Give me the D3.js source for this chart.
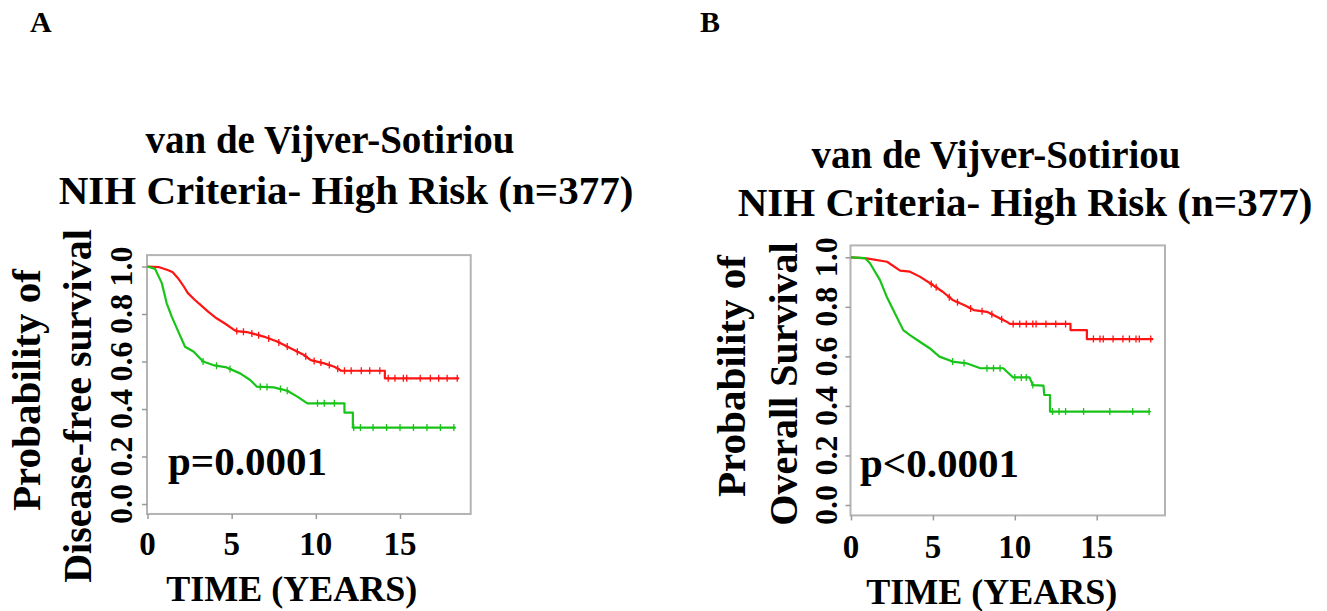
<!DOCTYPE html>
<html>
<head>
<meta charset="utf-8">
<script src="https://cdn.jsdelivr.net/npm/d3@7"></script>
<style>
  html, body { margin: 0; padding: 0; background: #fff; }
  svg { display: block; }
  text { font-family: "Liberation Serif", "Times New Roman", serif; font-weight: bold; fill: #000; }
</style>
</head>
<body>
<svg id="chart" width="1327" height="611"></svg>
<script>
// ---------------- DATA ----------------
const panelLetters = ["A", "B"];
const titleLine1 = "van de Vijver-Sotiriou";
const titleLine2 = "NIH Criteria- High Risk (n=377)";
const yLabelLine1 = ["Probability of", "Probability of"];
const yLabelLine2 = ["Disease-free survival", "Overall Survival"];
const xLabel = "TIME (YEARS)";
const pValues = ["p=0.0001", "p<0.0001"];
const xTicks = [0, 5, 10, 15];
const yTicks = [0, 0.2, 0.4, 0.6, 0.8, 1.0];
const yTickLabels = ["0.0", "0.2", "0.4", "0.6", "0.8", "1.0"];

// Panel A – disease-free survival (red = low risk group, green = high risk group)
const aRedTime = [0, 0.7, 1.2, 1.5, 1.8, 2.1, 2.4, 2.8, 3.2, 3.6, 4.1, 4.6, 5.1, 5.3, 5.9, 6.9, 7.7, 8.5, 9.3, 9.7, 10.5, 11.1, 11.4, 11.5, 14.1, 14.1, 18.5];
const aRedSurv = [1.0, 0.997, 0.985, 0.976, 0.952, 0.922, 0.888, 0.86, 0.835, 0.81, 0.782, 0.76, 0.735, 0.728, 0.724, 0.705, 0.684, 0.656, 0.627, 0.606, 0.592, 0.578, 0.566, 0.561, 0.561, 0.529, 0.529];
const aRedCensor = [5.3, 5.7, 6.2, 6.6, 7.2, 7.8, 8.3, 8.9, 9.4, 9.9, 10.3, 10.8, 11.3, 11.7, 12.1, 12.7, 13.2, 13.8, 14.3, 14.7, 15.2, 15.4, 16.2, 16.8, 17.3, 17.8, 18.4];
const aGreenTime = [0, 0.45, 0.85, 1.14, 1.44, 1.83, 2.23, 2.73, 3.3, 3.9, 4.7, 5.5, 6.1, 6.5, 7.5, 8.3, 8.9, 9.5, 11.7, 11.7, 12.2, 12.2, 18.3];
const aGreenSurv = [1.0, 0.99, 0.93, 0.845, 0.789, 0.726, 0.662, 0.642, 0.6, 0.585, 0.575, 0.55, 0.522, 0.494, 0.491, 0.477, 0.452, 0.424, 0.424, 0.385, 0.385, 0.322, 0.322];
const aGreenCensor = [3.3, 4.1, 4.9, 6.7, 7.1, 7.9, 8.3, 10.1, 10.5, 11.1, 12.25, 12.65, 13.4, 14.2, 15.0, 15.8, 16.6, 17.4, 18.2];

// Panel B – overall survival
const bRedTime = [0, 0.95, 2.2, 3.0, 3.6, 4.2, 5.0, 5.6, 6.2, 6.9, 7.5, 8.3, 8.9, 9.5, 9.7, 13.4, 13.4, 14.4, 14.4, 18.45];
const bRedSurv = [1.0, 0.996, 0.982, 0.946, 0.942, 0.922, 0.888, 0.861, 0.828, 0.807, 0.787, 0.78, 0.76, 0.74, 0.731, 0.731, 0.706, 0.706, 0.67, 0.67];
const bRedCensor = [4.9, 5.2, 6.0, 6.5, 7.3, 8.0, 8.6, 9.2, 9.9, 10.3, 10.7, 11.1, 11.3, 11.9, 12.5, 13.1, 14.8, 15.2, 15.4, 16.0, 16.6, 17.0, 17.4, 17.6, 18.3];
const bGreenTime = [0, 0.85, 1.16, 1.77, 2.18, 2.58, 3.19, 3.6, 4.2, 4.8, 5.4, 6.2, 7.05, 7.9, 9.3, 9.9, 10.9, 11.1, 11.75, 11.8, 12.15, 12.15, 18.25];
const bGreenSurv = [1.0, 0.997, 0.976, 0.908, 0.841, 0.787, 0.706, 0.686, 0.659, 0.633, 0.599, 0.579, 0.572, 0.552, 0.552, 0.515, 0.515, 0.484, 0.482, 0.444, 0.444, 0.377, 0.377];
const bGreenCensor = [6.2, 6.9, 8.3, 8.7, 9.1, 10.0, 10.4, 10.7, 11.1, 12.3, 12.7, 13.1, 14.2, 15.8, 17.2, 18.2];

const seriesColors = { red: "#ff1414", green: "#18c418" };

// ---------------- LAYOUT ----------------
const panels = [
  {
    letter: panelLetters[0], letterX: 30,
    xRange: [147.5, 400], xMaxDomain: 19.2, yRange: [504, 266.5],
    t1X: 330, t2X: 346, t1Y: 153, t2Y: 204,
    yl1X: 40, yl2X: 91, ylCy1: 390, ylCy2: 406, yTickX: 132,
    xTickY: 555, xLabY: 601, pX: 168, pY: 475,
    yLabel1: yLabelLine1[0], yLabel2: yLabelLine2[0], p: pValues[0],
    curves: [
      { t: aRedTime, s: aRedSurv, c: aRedCensor, color: seriesColors.red },
      { t: aGreenTime, s: aGreenSurv, c: aGreenCensor, color: seriesColors.green }
    ]
  },
  {
    letter: panelLetters[1], letterX: 700,
    xRange: [851, 1096.7], xMaxDomain: 19.17, yRange: [505, 257.3],
    t1X: 996, t2X: 1025, t1Y: 168, t2Y: 216,
    yl1X: 745, yl2X: 797, ylCy1: 376, ylCy2: 384, yTickX: 837,
    xTickY: 558, xLabY: 604, pX: 860, pY: 477,
    yLabel1: yLabelLine1[1], yLabel2: yLabelLine2[1], p: pValues[1],
    curves: [
      { t: bRedTime, s: bRedSurv, c: bRedCensor, color: seriesColors.red },
      { t: bGreenTime, s: bGreenSurv, c: bGreenCensor, color: seriesColors.green }
    ]
  }
];

const svg = d3.select("#chart");

function survAt(times, survs, t) {
  let i = d3.bisectRight(times, t) - 1;
  if (i < 0) i = 0;
  if (i >= times.length - 1) return survs[times.length - 1];
  const t0 = times[i], t1 = times[i + 1];
  if (t1 === t0) return survs[i + 1];
  return survs[i] + (survs[i + 1] - survs[i]) * (t - t0) / (t1 - t0);
}

panels.forEach(P => {
  const g = svg.append("g");
  const x = d3.scaleLinear().domain([0, 15]).range(P.xRange);
  const y = d3.scaleLinear().domain([0, 1]).range(P.yRange);

  // panel letter
  g.append("text").attr("x", P.letterX).attr("y", 32)
    .style("font-size", "30px").text(P.letter);

  // titles
  g.append("text").attr("x", P.t1X).attr("y", P.t1Y).attr("text-anchor", "middle")
    .style("font-size", "39px").text(titleLine1);
  g.append("text").attr("x", P.t2X).attr("y", P.t2Y).attr("text-anchor", "middle")
    .style("font-size", "41px").text(titleLine2);

  // plot box
  const bx0 = x(0) - 0.5, bx1 = x(P.xMaxDomain);
  const by0 = y(1.048), by1 = y(-0.042);
  g.append("rect").attr("x", bx0).attr("y", by0)
    .attr("width", bx1 - bx0).attr("height", by1 - by0)
    .attr("fill", "none").attr("stroke", "#b4b4b4").attr("stroke-width", 2);

  // y axis ticks
  const yAxis = d3.axisLeft(y).tickValues(yTicks).tickSize(5).tickFormat("");
  const ya = g.append("g").attr("transform", `translate(${bx0},0)`).call(yAxis);
  ya.select(".domain").remove();
  ya.selectAll("line").attr("stroke", "#9a9a9a").attr("stroke-width", 1.5);

  // x axis ticks
  const xAxis = d3.axisBottom(x).tickValues(xTicks).tickSize(5).tickFormat("");
  const xa = g.append("g").attr("transform", `translate(0,${by1})`).call(xAxis);
  xa.select(".domain").remove();
  xa.selectAll("line").attr("stroke", "#9a9a9a").attr("stroke-width", 1.5);

  // y tick labels (rotated)
  g.selectAll(".ytl").data(yTicks).enter().append("text")
    .attr("transform", (d) => `translate(${P.yTickX},${y(d)}) rotate(-90)`)
    .attr("text-anchor", "middle")
    .style("font-size", "32px")
    .text((d, i) => yTickLabels[i]);

  // x tick labels
  g.selectAll(".xtl").data(xTicks).enter().append("text")
    .attr("x", d => x(d)).attr("y", P.xTickY)
    .attr("text-anchor", "middle")
    .style("font-size", "33px")
    .text(d => d);

  // axis titles
  g.append("text").attr("x", (x(0) + x(15)) / 2 + 18).attr("y", P.xLabY)
    .attr("text-anchor", "middle").style("font-size", "36px").text(xLabel);
  g.append("text").attr("transform", `translate(${P.yl1X},${P.ylCy1}) rotate(-90)`)
    .attr("text-anchor", "middle").style("font-size", "41px").text(P.yLabel1);
  g.append("text").attr("transform", `translate(${P.yl2X},${P.ylCy2}) rotate(-90)`)
    .attr("text-anchor", "middle").style("font-size", "40px").text(P.yLabel2);

  // p-value
  g.append("text").attr("x", P.pX).attr("y", P.pY)
    .style("font-size", "41px").text(P.p);

  // curves
  const line = d3.line().x(d => x(d[0])).y(d => y(d[1])).curve(d3.curveLinear);
  P.curves.forEach(c => {
    const pts = c.t.map((t, i) => [t, c.s[i]]);
    g.append("path").attr("d", line(pts))
      .attr("fill", "none").attr("stroke", c.color)
      .attr("stroke-width", 2.2).attr("stroke-linejoin", "round");
    g.selectAll(null).data(c.c).enter().append("path")
      .attr("d", t => {
        const px = x(t), py = y(survAt(c.t, c.s, t));
        return `M${px},${py - 3.5}V${py + 3.5}M${px - 2},${py}H${px + 2}`;
      })
      .attr("stroke", c.color).attr("stroke-width", 1.3).attr("fill", "none");
  });
});
</script>
</body>
</html>
